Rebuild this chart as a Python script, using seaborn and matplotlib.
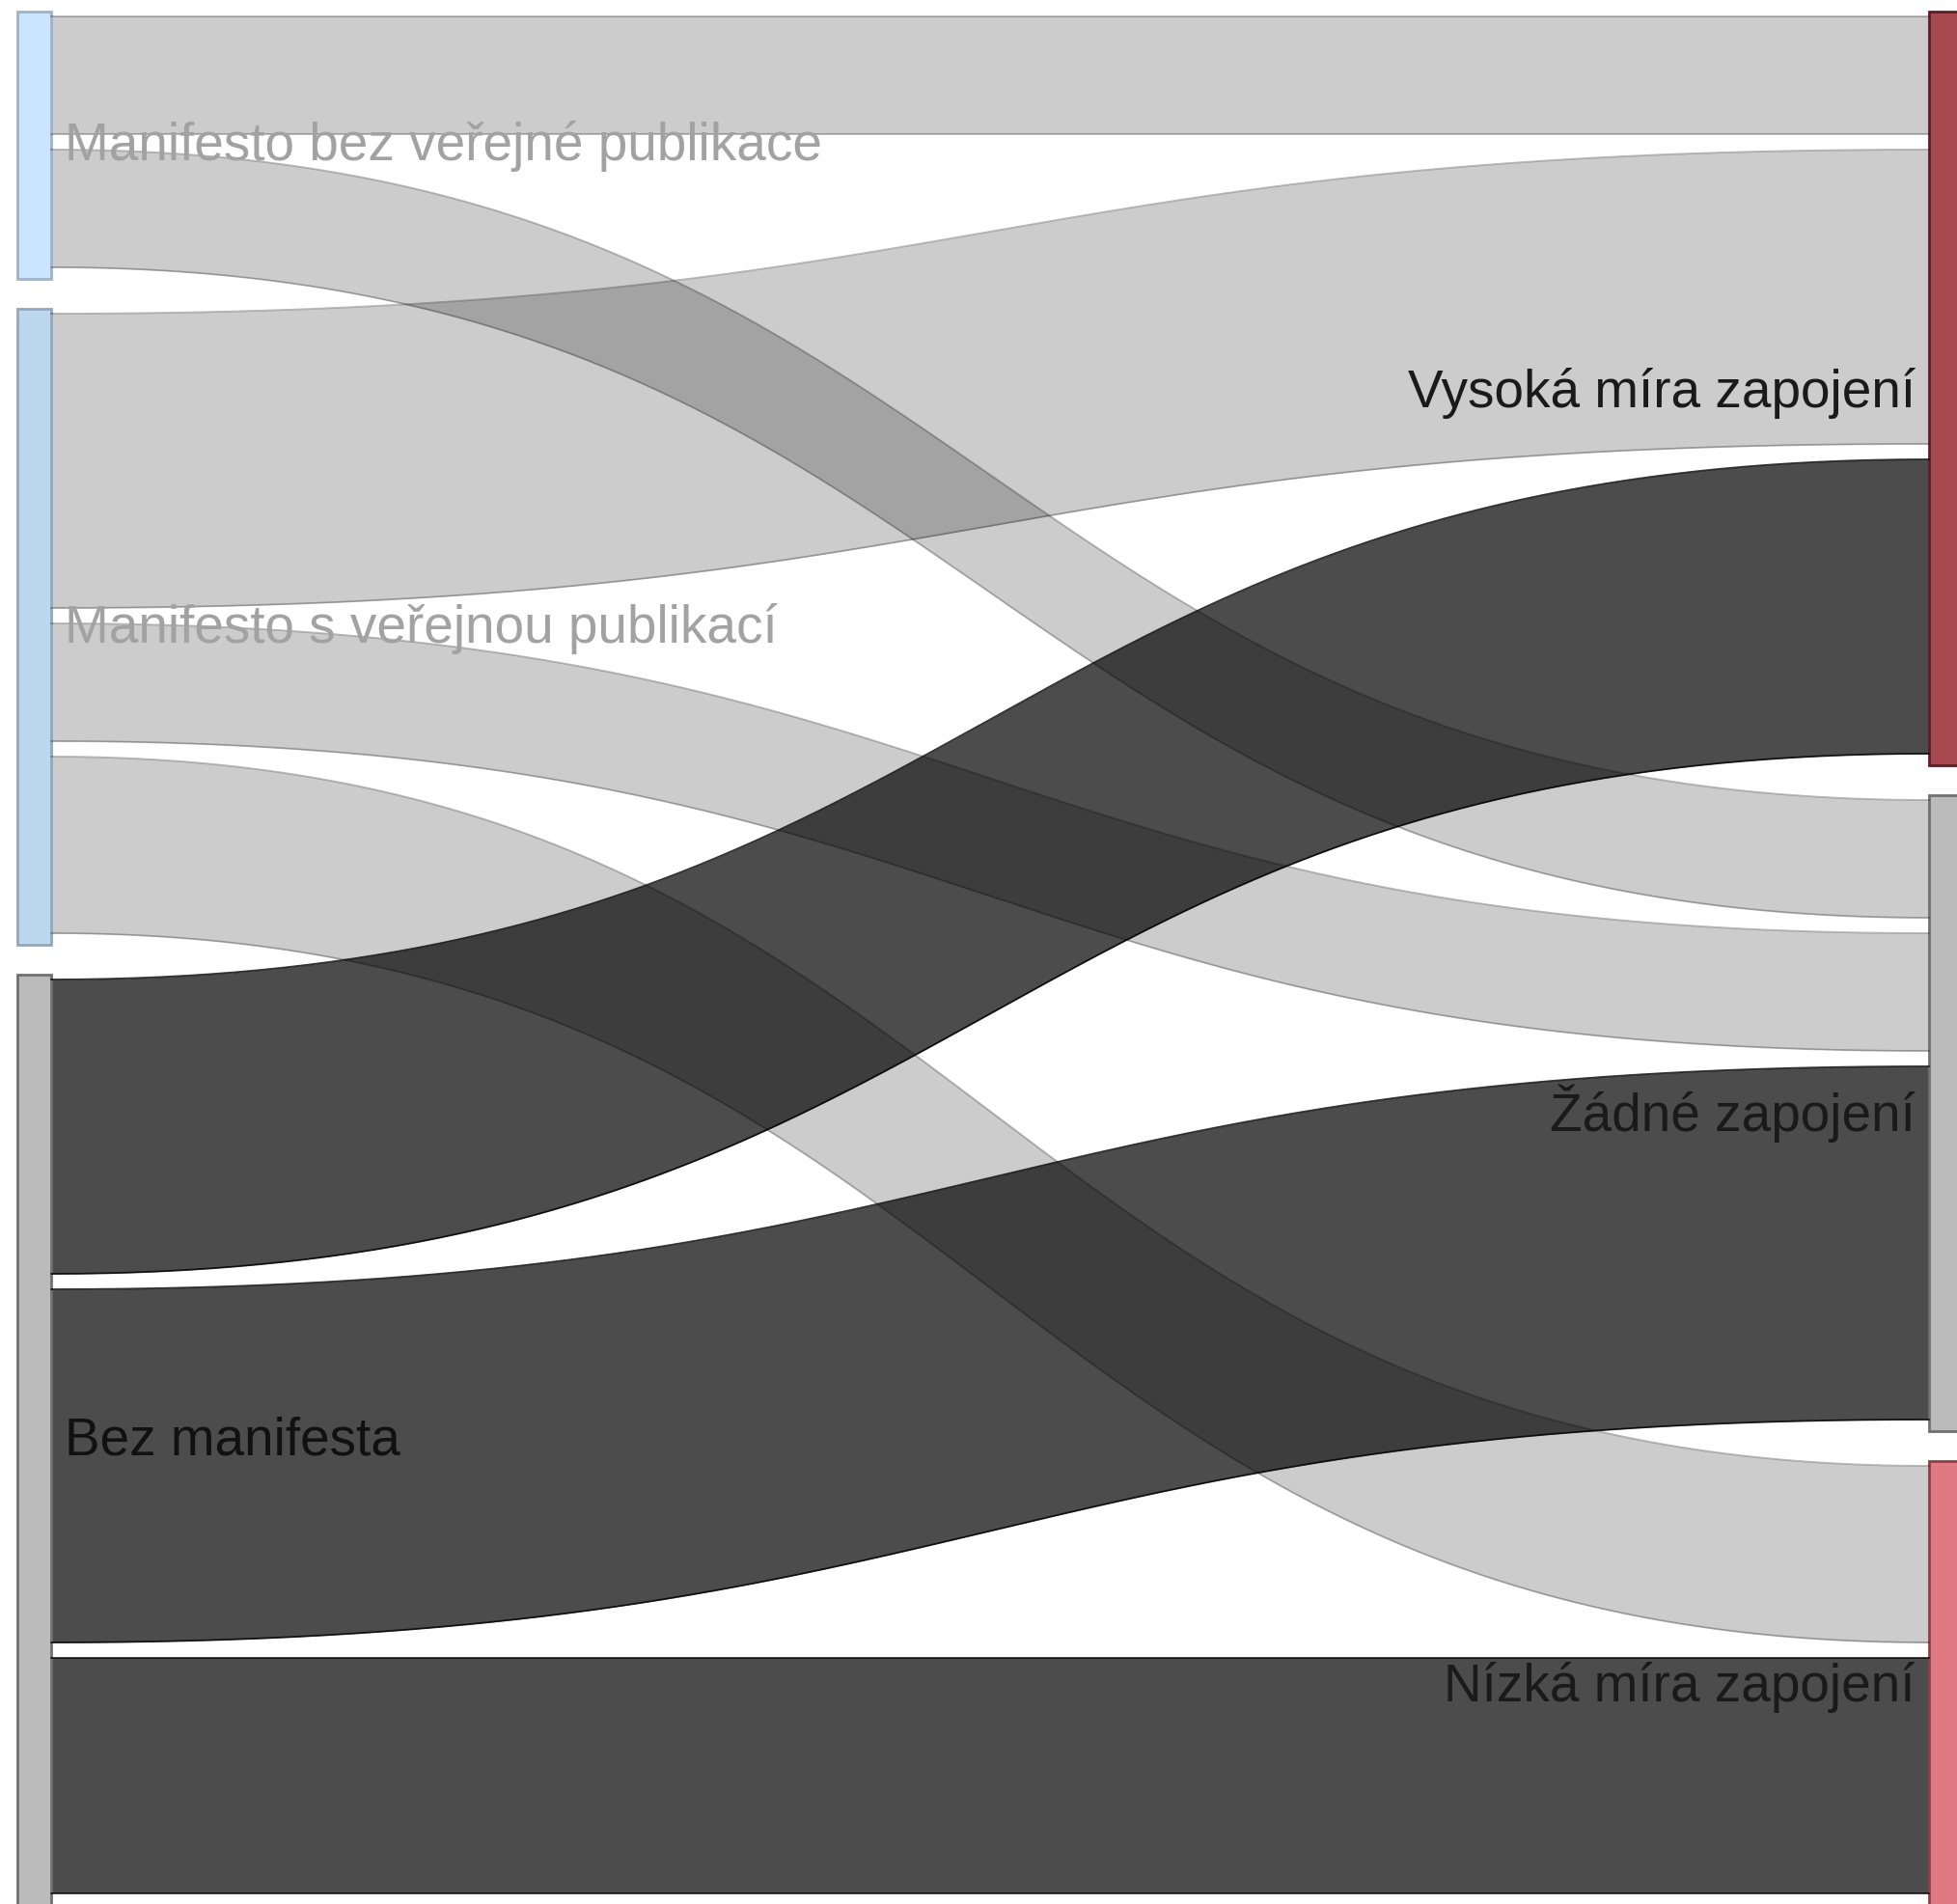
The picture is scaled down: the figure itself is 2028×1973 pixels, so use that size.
import numpy as np
import matplotlib
matplotlib.use("Agg")
import matplotlib.pyplot as plt
from matplotlib.patches import Rectangle
import seaborn as sns

# uzly (levý a pravý sloupec)
zdroje = ["Manifesto bez veřejné publikace", "Manifesto s veřejnou publikací", "Bez manifesta"]
cile = ["Vysoká míra zapojení", "Žádné zapojení", "Nízká míra zapojení"]

# toky: index zdroje, index cíle, počet
tok_zdroj = [0, 0, 1, 1, 1, 2, 2, 2]
tok_cil = [0, 1, 0, 1, 2, 0, 1, 2]
tok_hodnota = [2, 2, 5, 2, 3, 5, 6, 4]

barvy_zdroje = ["#cce5ff", "#bdd7ee", "#bbbbbb"]
okraje_zdroje = ["#9fb3c8", "#93a8bc", "#707070"]
barvy_cile = ["#a8494f", "#bbbbbb", "#e07a82"]
okraje_cile = ["#5e1e26", "#707070", "#8c3f46"]
barvy_popisku_zdroje = ["#a2a2a2", "#a2a2a2", "#111111"]
barvy_popisku_cile = ["#1a1a1a", "#1a1a1a", "#1a1a1a"]
pruhlednost_toku = [0.2, 0.2, 0.7]   # podle zdroje
okraj_toku = [(0, 0, 0, 0.28), (0, 0, 0, 0.28), (0, 0, 0, 0.8)]

# rozvržení v pixelech
W, H = 2028, 1973
jednotka = 61
mezera_toku = 16
odsazeni_nahore, odsazeni_dole = 5, 12
mezera_uzlu = 31
horni_okraj = 12
x_levy, x_pravy, sirka_uzlu = 18, 1999, 35

sns.set_theme(style="white")
plt.rcParams["font.family"] = ["Liberation Sans", "DejaVu Sans"]

fig = plt.figure(figsize=(W / 100, H / 100), dpi=100)
ax = fig.add_axes([0, 0, 1, 1])
ax.set_xlim(0, W)
ax.set_ylim(H, 0)
ax.axis("off")


def rozloz(pocet_uzlu, klic):
    """Vrátí polohy uzlů a počáteční y každého toku v uzlu."""
    uzly = []
    pozice_toku = {}
    y = horni_okraj
    for u in range(pocet_uzlu):
        idx = [i for i in range(len(tok_hodnota)) if klic[i] == u]
        top = y
        yy = top + odsazeni_nahore
        for k, i in enumerate(idx):
            pozice_toku[i] = yy
            yy += tok_hodnota[i] * jednotka
            if k < len(idx) - 1:
                yy += mezera_toku
        bottom = yy + odsazeni_dole
        uzly.append((top, bottom))
        y = bottom + mezera_uzlu
    return uzly, pozice_toku


uzly_l, y_l = rozloz(len(zdroje), tok_zdroj)
uzly_p, y_p = rozloz(len(cile), tok_cil)

x0 = x_levy + sirka_uzlu
x1 = x_pravy
xm = (x0 + x1) / 2
t = np.linspace(0, 1, 300)
bx = (1 - t) ** 3 * x0 + 3 * (1 - t) ** 2 * t * xm + 3 * (1 - t) * t ** 2 * xm + t ** 3 * x1


def krivka(ya, yb):
    return (1 - t) ** 3 * ya + 3 * (1 - t) ** 2 * t * ya + 3 * (1 - t) * t ** 2 * yb + t ** 3 * yb


for i, v in enumerate(tok_hodnota):
    s = tok_zdroj[i]
    ya, yb = y_l[i], y_p[i]
    horni = krivka(ya, yb)
    dolni = krivka(ya + v * jednotka, yb + v * jednotka)
    ax.fill_between(bx, horni, dolni, color=(0, 0, 0, pruhlednost_toku[s]), lw=0)
    ax.plot(bx, horni, color=okraj_toku[s], lw=1.3)
    ax.plot(bx, dolni, color=okraj_toku[s], lw=1.3)

for k, (top, bottom) in enumerate(uzly_l):
    ax.add_patch(Rectangle((x_levy, top), sirka_uzlu, bottom - top,
                           facecolor=barvy_zdroje[k], edgecolor=okraje_zdroje[k], lw=2))
    ax.text(x0 + 14, (top + bottom) / 2 + 16, zdroje[k], fontsize=39.5,
            color=barvy_popisku_zdroje[k], ha="left", va="baseline")

for k, (top, bottom) in enumerate(uzly_p):
    ax.add_patch(Rectangle((x_pravy, top), sirka_uzlu, bottom - top,
                           facecolor=barvy_cile[k], edgecolor=okraje_cile[k], lw=2))
    ax.text(x1 - 14, (top + bottom) / 2 + 19, cile[k], fontsize=39.5,
            color=barvy_popisku_cile[k], ha="right", va="baseline")

fig.savefig("out.png", dpi=100, facecolor="white")
